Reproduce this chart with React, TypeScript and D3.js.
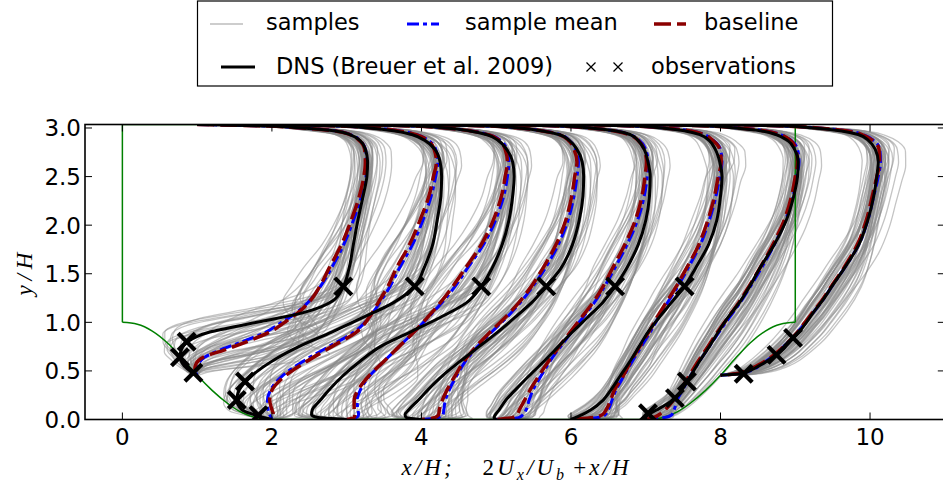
import React from "react";
import * as d3 from "d3";

// ---- canvas & plot frame ----
const WIDTH = 943;
const HEIGHT = 492;
const PLOT = { left: 85, right: 944.8, top: 124.5, bottom: 419.5 };
const X_DOMAIN: [number, number] = [-0.5, 11];
const TOP_WALL = 3.036;
const Y_DOMAIN: [number, number] = [0, TOP_WALL];

const xTicks = [0, 2, 4, 6, 8, 10];
const yTicks = [0, 0.5, 1.0, 1.5, 2.0, 2.5, 3.0];

// ---- periodic hill geometry (left hill; right hill is its mirror about x = 4.5) ----
const hillX = [0, 0.2, 0.4, 0.6, 0.8, 1.0, 1.2, 1.4, 1.6, 1.8, 1.929];
const hillY = [1.0, 0.98, 0.91, 0.79, 0.63, 0.455, 0.3, 0.17, 0.07, 0.015, 0];
const PERIOD = 9;

// ---- profile stations ----
const stationX = [1, 2, 3, 4, 5, 6, 7, 8];

// heights at which the profiles are tabulated
const yOnHill = [0.455, 0.47, 0.49, 0.52, 0.58, 0.64, 0.72, 0.8, 0.9, 1.0, 1.1, 1.22, 1.37, 1.55, 1.8, 2.05, 2.3, 2.5, 2.65, 2.78, 2.87, 2.93, 2.97, 3.0, 3.02, 3.036];
const yOnFlat = [0, 0.02, 0.05, 0.1, 0.2, 0.3, 0.45, 0.6, 0.75, 0.9, 1.05, 1.2, 1.37, 1.55, 1.8, 2.05, 2.3, 2.5, 2.65, 2.78, 2.87, 2.93, 2.97, 3.0, 3.02, 3.036];
const stationHeights = [yOnHill, yOnFlat, yOnFlat, yOnFlat, yOnFlat, yOnFlat, yOnFlat, yOnHill];

// 2U_x/U_b + x/H at the heights above
const dnsProfiles = [
  [1.0, 0.96, 0.92, 0.87, 0.8, 0.77, 0.79, 0.87, 1.17, 1.8, 2.42, 2.81, 2.955, 3.03, 3.09, 3.15, 3.22, 3.27, 3.28, 3.25, 3.18, 3.05, 2.85, 2.4, 1.95, 1.0],
  [2.0, 1.88, 1.76, 1.6, 1.53, 1.56, 1.73, 2.0, 2.36, 2.8, 3.22, 3.62, 3.91, 4.03, 4.15, 4.21, 4.26, 4.27, 4.25, 4.18, 4.05, 3.88, 3.65, 3.3, 2.9, 2.0],
  [3.0, 2.62, 2.53, 2.54, 2.65, 2.76, 2.95, 3.18, 3.45, 3.85, 4.25, 4.6, 4.8, 4.94, 5.08, 5.17, 5.22, 5.24, 5.22, 5.14, 5.03, 4.88, 4.65, 4.32, 3.92, 3.0],
  [4.0, 3.8, 3.78, 3.83, 3.96, 4.08, 4.28, 4.52, 4.77, 5.02, 5.25, 5.47, 5.67, 5.86, 6.02, 6.11, 6.16, 6.17, 6.15, 6.08, 5.98, 5.85, 5.62, 5.3, 4.92, 4.0],
  [5.0, 4.97, 4.99, 5.04, 5.13, 5.25, 5.44, 5.64, 5.83, 6.02, 6.22, 6.42, 6.59, 6.74, 6.9, 7.0, 7.05, 7.06, 7.03, 6.98, 6.9, 6.8, 6.6, 6.25, 5.85, 5.0],
  [6.0, 6.06, 6.15, 6.27, 6.43, 6.53, 6.66, 6.79, 6.91, 7.03, 7.18, 7.34, 7.52, 7.66, 7.84, 7.95, 8.0, 8.02, 7.99, 7.93, 7.85, 7.73, 7.53, 7.22, 6.85, 6.0],
  [7.0, 7.0, 7.03, 7.15, 7.36, 7.48, 7.6, 7.72, 7.85, 7.97, 8.1, 8.25, 8.39, 8.52, 8.72, 8.88, 8.98, 9.03, 9.04, 8.99, 8.9, 8.75, 8.55, 8.2, 7.85, 7.0],
  [8.0, 8.28, 8.36, 8.44, 8.58, 8.7, 8.83, 8.93, 9.05, 9.15, 9.24, 9.36, 9.49, 9.65, 9.85, 9.97, 10.05, 10.09, 10.11, 10.07, 9.98, 9.85, 9.62, 9.25, 8.85, 8.0],
];

const baselineProfiles = [
  [1.0, 0.99, 0.98, 0.97, 0.99, 1.08, 1.38, 1.66, 1.97, 2.17, 2.35, 2.51, 2.64, 2.76, 2.93, 3.06, 3.17, 3.23, 3.25, 3.24, 3.17, 3.05, 2.85, 2.4, 1.95, 1.0],
  [2.0, 2.02, 2.02, 2.0, 1.97, 2.0, 2.18, 2.47, 2.8, 3.13, 3.3, 3.42, 3.55, 3.66, 3.84, 3.98, 4.1, 4.16, 4.2, 4.17, 4.09, 3.93, 3.7, 3.35, 2.92, 2.0],
  [3.0, 3.1, 3.11, 3.1, 3.1, 3.15, 3.3, 3.5, 3.7, 3.9, 4.08, 4.25, 4.42, 4.58, 4.8, 4.96, 5.07, 5.12, 5.15, 5.12, 5.05, 4.9, 4.66, 4.32, 3.9, 3.0],
  [4.0, 4.18, 4.23, 4.24, 4.28, 4.34, 4.45, 4.57, 4.73, 4.92, 5.12, 5.3, 5.47, 5.62, 5.8, 5.93, 6.01, 6.05, 6.08, 6.04, 5.97, 5.85, 5.62, 5.3, 4.9, 4.0],
  [5.0, 5.22, 5.28, 5.31, 5.38, 5.45, 5.57, 5.7, 5.84, 5.99, 6.14, 6.29, 6.43, 6.55, 6.72, 6.86, 6.95, 6.99, 7.01, 6.98, 6.9, 6.78, 6.58, 6.25, 5.85, 5.0],
  [6.0, 6.3, 6.42, 6.47, 6.53, 6.58, 6.7, 6.8, 6.92, 7.04, 7.15, 7.27, 7.41, 7.54, 7.71, 7.83, 7.92, 7.97, 8.01, 7.99, 7.9, 7.78, 7.6, 7.25, 6.85, 6.0],
  [7.0, 7.1, 7.18, 7.26, 7.37, 7.46, 7.58, 7.7, 7.83, 7.96, 8.1, 8.24, 8.38, 8.52, 8.7, 8.85, 8.95, 9.0, 9.03, 9.01, 8.94, 8.8, 8.6, 8.25, 7.88, 7.0],
  [8.0, 8.2, 8.3, 8.4, 8.55, 8.67, 8.8, 8.91, 9.03, 9.13, 9.23, 9.35, 9.48, 9.64, 9.83, 9.95, 10.03, 10.09, 10.13, 10.12, 10.04, 9.9, 9.7, 9.3, 8.88, 8.0],
];

const meanProfiles = [
  [1.0, 0.99, 0.98, 0.98, 1.02, 1.1, 1.32, 1.6, 1.92, 2.13, 2.33, 2.5, 2.65, 2.79, 2.96, 3.09, 3.2, 3.26, 3.27, 3.25, 3.18, 3.06, 2.86, 2.4, 1.95, 1.0],
  [2.0, 1.99, 1.97, 1.95, 1.94, 1.98, 2.14, 2.42, 2.76, 3.1, 3.3, 3.44, 3.58, 3.7, 3.88, 4.02, 4.13, 4.19, 4.22, 4.19, 4.1, 3.94, 3.71, 3.35, 2.92, 2.0],
  [3.0, 3.13, 3.16, 3.15, 3.14, 3.18, 3.31, 3.5, 3.7, 3.9, 4.09, 4.27, 4.45, 4.61, 4.83, 4.99, 5.1, 5.15, 5.17, 5.14, 5.06, 4.91, 4.67, 4.32, 3.9, 3.0],
  [4.0, 4.22, 4.29, 4.3, 4.32, 4.37, 4.47, 4.59, 4.75, 4.94, 5.14, 5.32, 5.49, 5.65, 5.83, 5.96, 6.04, 6.08, 6.1, 6.06, 5.98, 5.86, 5.63, 5.3, 4.9, 4.0],
  [5.0, 5.3, 5.36, 5.4, 5.44, 5.49, 5.6, 5.72, 5.86, 6.01, 6.16, 6.31, 6.45, 6.58, 6.75, 6.89, 6.98, 7.02, 7.03, 7.0, 6.92, 6.79, 6.59, 6.25, 5.85, 5.0],
  [6.0, 6.36, 6.46, 6.5, 6.55, 6.6, 6.71, 6.82, 6.94, 7.06, 7.17, 7.29, 7.43, 7.56, 7.73, 7.85, 7.94, 7.99, 8.02, 8.0, 7.91, 7.79, 7.61, 7.25, 6.85, 6.0],
  [7.0, 7.25, 7.35, 7.38, 7.42, 7.49, 7.6, 7.72, 7.85, 7.98, 8.12, 8.26, 8.4, 8.54, 8.72, 8.87, 8.97, 9.02, 9.05, 9.03, 8.95, 8.81, 8.61, 8.25, 7.88, 7.0],
  [8.0, 8.24, 8.36, 8.45, 8.57, 8.68, 8.8, 8.91, 9.03, 9.14, 9.24, 9.36, 9.49, 9.65, 9.85, 9.97, 10.05, 10.11, 10.14, 10.13, 10.05, 9.91, 9.71, 9.3, 8.88, 8.0],
];

// ---- observation points (x/H-shifted velocity, y/H) ----
const obsX = [0.86, 0.77, 0.95, 2.955, 1.82, 1.53, 1.64, 3.91, 4.8, 5.67, 6.59, 7.52, 7.03, 7.39, 7.55, 8.31, 8.75, 8.97];
const obsY = [0.8, 0.64, 0.48, 1.37, 0.045, 0.2, 0.39, 1.37, 1.37, 1.37, 1.37, 1.37, 0.064, 0.22, 0.39, 0.47, 0.665, 0.84];

// ---- ensemble members: velocity scale, weight toward DNS, wall-normal stretch ----
const sampleScale = [1.0, 0.97, 1.03, 0.95, 1.05, 0.99, 1.02, 0.93, 1.08, 0.98, 1.01, 0.96, 1.04, 0.94, 1.06, 1.0, 0.97, 1.03, 0.92, 1.07, 0.99, 1.02, 0.95, 1.05, 0.98, 1.12, 0.9, 1.01, 0.96, 1.04, 1.16, 0.97, 1.0, 1.09, 0.94, 1.02, 0.99, 1.03, 0.96, 1.01, 1.0, 0.98, 1.03, 0.96, 1.02, 1.01, 0.97, 1.04, 0.99, 1.0];
const sampleDnsWeight = [0.3, 0.6, -0.2, 0.9, -0.5, 1.2, 0.1, 0.4, -0.7, 1.4, -0.3, 0.7, 0.2, -0.1, 0.8, -0.8, 1.0, 0.5, 0.0, 1.3, -0.4, 0.9, 0.3, -0.6, 0.6, 0.2, 1.1, -0.2, 1.3, 0.4, -0.3, 0.0, 0.7, 1.0, -0.9, 1.4, 0.5, -0.1, 1.35, 0.8, -1.0, 1.25, -0.4, 0.6, 0.2, -0.7, 1.0, 0.0, 0.5, -0.3];
const sampleWarp = [1.0, 0.95, 1.05, 0.9, 1.1, 0.85, 1.2, 1.0, 0.95, 0.9, 0.82, 1.15, 0.88, 1.25, 1.0, 1.05, 1.1, 0.8, 0.95, 1.0, 0.9, 1.2, 1.3, 0.85, 1.05, 1.0, 0.95, 1.15, 1.0, 0.92, 1.1, 0.78, 1.35, 0.9, 1.0, 1.05, 1.5, 1.6, 0.88, 1.2, 1.4, 0.9, 1.35, 1.25, 1.45, 1.2, 0.92, 1.5, 1.1, 1.3];

// ---- legend ----
const legendLabels = ["samples", "sample mean", "baseline", "DNS (Breuer et al. 2009)", "observations"];

const FONT = "'DejaVu Sans', 'Bitstream Vera Sans', sans-serif";
const MATH_FONT = "'Liberation Serif', 'DejaVu Serif', serif";

const COLORS = {
  sample: "#8a8a8a",
  mean: "#0000ff",
  baseline: "#8b0000",
  dns: "#000000",
  wall: "#008000",
};

const DASH_BASELINE = "17,6";
const DASH_MEAN = "12,4,4,4";

type Pt = [number, number];

export default function App() {
  const x = d3.scaleLinear().domain(X_DOMAIN).range([PLOT.left, PLOT.right]);
  const y = d3.scaleLinear().domain(Y_DOMAIN).range([PLOT.bottom, PLOT.top]);

  // profiles are x(y): drawn from the top wall down so pixel-y increases
  const profileLine = d3
    .line<Pt>()
    .x((d) => x(d[0]))
    .y((d) => y(d[1]))
    .curve(d3.curveMonotoneY);

  const hillLine = d3
    .line<Pt>()
    .x((d) => x(d[0]))
    .y((d) => y(d[1]))
    .curve(d3.curveMonotoneX);

  const toPoints = (values: number[], heights: number[]): Pt[] =>
    values.map((v, i) => [v, heights[i]] as Pt).reverse();

  const samplePaths: string[] = [];
  sampleScale.forEach((a, k) => {
    stationX.forEach((x0, s) => {
      const hs = stationHeights[s];
      const B = baselineProfiles[s];
      const D = dnsProfiles[s];
      const w = hs[0];
      const T = hs[hs.length - 1];
      const pts: Pt[] = hs.map((hh, i) => {
        const t = (hh - w) / (T - w);
        const yy = w + (T - w) * Math.pow(t, sampleWarp[k]);
        const xx = x0 + a * (B[i] - x0) + sampleDnsWeight[k] * (D[i] - B[i]);
        return [xx, yy] as Pt;
      });
      samplePaths.push(profileLine(pts.reverse()) || "");
    });
  });

  const leftHill: Pt[] = hillX.map((hx, i) => [hx, hillY[i]] as Pt);
  const rightHill: Pt[] = hillX.map((hx, i) => [PERIOD - hx, hillY[i]] as Pt).reverse();
  const hillEnd = hillX[hillX.length - 1];

  const plotW = PLOT.right - PLOT.left;
  const plotH = PLOT.bottom - PLOT.top;
  const tickLen = 7;

  const crossSize = 8.5;

  return (
    <svg
      width={WIDTH}
      height={HEIGHT}
      viewBox={`0 0 ${WIDTH} ${HEIGHT}`}
      style={{ position: "absolute", left: 0, top: 0, background: "#ffffff" }}
    >
      <defs>
        <clipPath id="plot-area">
          <rect x={PLOT.left} y={PLOT.top} width={plotW} height={plotH} />
        </clipPath>
      </defs>

      <g clipPath="url(#plot-area)">
        {/* ensemble members */}
        <g fill="none" stroke={COLORS.sample} strokeWidth={1.3} strokeOpacity={0.5}>
          {samplePaths.map((p, i) => (
            <path key={i} d={p} />
          ))}
        </g>

        {/* domain outline */}
        <g fill="none" stroke={COLORS.wall} strokeWidth={1.5}>
          <line x1={x(0)} x2={x(0)} y1={y(TOP_WALL)} y2={y(1)} />
          <path d={hillLine(leftHill) || ""} />
          <line x1={x(hillEnd)} x2={x(PERIOD - hillEnd)} y1={y(0)} y2={y(0)} />
          <path d={hillLine(rightHill) || ""} />
          <line x1={x(PERIOD)} x2={x(PERIOD)} y1={y(1)} y2={y(TOP_WALL)} />
          <line x1={x(0)} x2={x(PERIOD)} y1={y(TOP_WALL)} y2={y(TOP_WALL)} />
        </g>

        {/* sample mean */}
        <g fill="none" stroke={COLORS.mean} strokeWidth={3} strokeDasharray={DASH_MEAN}>
          {meanProfiles.map((v, s) => (
            <path key={s} d={profileLine(toPoints(v, stationHeights[s])) || ""} />
          ))}
        </g>

        {/* baseline */}
        <g fill="none" stroke={COLORS.baseline} strokeWidth={3.5} strokeDasharray={DASH_BASELINE}>
          {baselineProfiles.map((v, s) => (
            <path key={s} d={profileLine(toPoints(v, stationHeights[s])) || ""} />
          ))}
        </g>

        {/* DNS */}
        <g fill="none" stroke={COLORS.dns} strokeWidth={3}>
          {dnsProfiles.map((v, s) => (
            <path key={s} d={profileLine(toPoints(v, stationHeights[s])) || ""} />
          ))}
        </g>

        {/* observations */}
        <g stroke="#000" strokeWidth={4.2}>
          {obsX.map((ox, i) => {
            const cx = x(ox);
            const cy = y(obsY[i]);
            return (
              <g key={i}>
                <line x1={cx - crossSize} y1={cy - crossSize} x2={cx + crossSize} y2={cy + crossSize} />
                <line x1={cx - crossSize} y1={cy + crossSize} x2={cx + crossSize} y2={cy - crossSize} />
              </g>
            );
          })}
        </g>
      </g>

      {/* frame */}
      <rect x={PLOT.left} y={PLOT.top} width={plotW} height={plotH} fill="none" stroke="#000" strokeWidth={1.6} />

      {/* ticks */}
      <g stroke="#000" strokeWidth={1}>
        {xTicks.map((t) => (
          <g key={`xt${t}`}>
            <line x1={x(t)} x2={x(t)} y1={PLOT.bottom} y2={PLOT.bottom - tickLen} />
            <line x1={x(t)} x2={x(t)} y1={PLOT.top} y2={PLOT.top + tickLen} />
          </g>
        ))}
        {yTicks.map((t) => (
          <g key={`yt${t}`}>
            <line x1={PLOT.left} x2={PLOT.left + tickLen} y1={y(t)} y2={y(t)} />
            <line x1={PLOT.right} x2={PLOT.right - tickLen} y1={y(t)} y2={y(t)} />
          </g>
        ))}
      </g>

      <g fontFamily={FONT} fontSize={23} fill="#000">
        {xTicks.map((t) => (
          <text key={`xl${t}`} x={x(t)} y={445} textAnchor="middle">
            {d3.format("d")(t)}
          </text>
        ))}
        {yTicks.map((t) => (
          <text key={`yl${t}`} x={81} y={y(t) + 8.4} textAnchor="end">
            {d3.format(".1f")(t)}
          </text>
        ))}
      </g>

      {/* axis titles */}
      <text
        x={515}
        y={475}
        textAnchor="middle"
        fontFamily={MATH_FONT}
        fontStyle="italic"
        fontSize={23}
        textLength={227}
        lengthAdjust="spacing"
      >
        x/H;
        <tspan dx={28} fontStyle="normal">2</tspan>
        <tspan>U</tspan>
        <tspan dy={5} fontSize={16}>x</tspan>
        <tspan dy={-5}>/U</tspan>
        <tspan dy={5} fontSize={16}>b</tspan>
        <tspan dy={-5} dx={6} fontStyle="normal">+</tspan>
        <tspan>x/H</tspan>
      </text>
      <text
        transform={`translate(32,${274}) rotate(-90)`}
        textAnchor="middle"
        fontFamily={MATH_FONT}
        fontStyle="italic"
        fontSize={23}
        textLength={43}
        lengthAdjust="spacing"
      >
        y/H
      </text>

      {/* legend */}
      <g>
        <rect x={197.5} y={1} width={635} height={85} fill="#fff" stroke="#000" strokeWidth={1.2} />
        <line x1={210} x2={243} y1={24} y2={24} stroke="#bdbdbd" strokeWidth={1.5} />
        <line x1={407} x2={439} y1={24} y2={24} stroke={COLORS.mean} strokeWidth={3} strokeDasharray={DASH_MEAN} />
        <line x1={654} x2={686} y1={24} y2={24} stroke={COLORS.baseline} strokeWidth={3.5} strokeDasharray={DASH_BASELINE} />
        <line x1={221} x2={255} y1={67} y2={67} stroke={COLORS.dns} strokeWidth={3} />
        <g stroke="#000" strokeWidth={1.3}>
          {[591, 618].map((cx) => (
            <g key={cx}>
              <line x1={cx - 4.5} y1={67 - 4.5} x2={cx + 4.5} y2={67 + 4.5} />
              <line x1={cx - 4.5} y1={67 + 4.5} x2={cx + 4.5} y2={67 - 4.5} />
            </g>
          ))}
        </g>
        <g fontFamily={FONT} fontSize={22.5} fill="#000">
          <text x={266} y={30}>{legendLabels[0]}</text>
          <text x={465} y={30}>{legendLabels[1]}</text>
          <text x={704} y={30}>{legendLabels[2]}</text>
          <text x={276} y={74}>{legendLabels[3]}</text>
          <text x={651} y={74}>{legendLabels[4]}</text>
        </g>
      </g>
    </svg>
  );
}
